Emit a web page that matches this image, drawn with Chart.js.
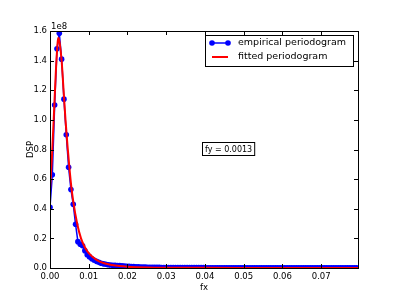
<!DOCTYPE html>
<html>
<head>
<meta charset="utf-8">
<script src="https://cdn.jsdelivr.net/npm/chart.js@4"></script>
<style>
  html, body { margin: 0; padding: 0; background: #fff; }
  #wrap { width: 399px; height: 299px; }
</style>
</head>
<body>
<div id="wrap"><canvas id="chart" width="399" height="299"></canvas></div>
<script>
// spectral density, values in units of 1e8
const FREQ_STEP = 0.0006;
const empirical = [
    0.41, 0.63, 1.10, 1.48, 1.585, 1.41, 1.14, 0.90, 0.68, 0.53,
    0.43, 0.295, 0.178, 0.16, 0.15, 0.117, 0.09, 0.075, 0.062, 0.052,
    0.045, 0.038, 0.032, 0.028, 0.025, 0.022, 0.020, 0.019, 0.018, 0.017,
    0.016, 0.015, 0.014, 0.012, 0.011, 0.010, 0.009, 0.008, 0.0075, 0.007,
    0.0065, 0.006, 0.0055, 0.005, 0.0048, 0.0045, 0.0042, 0.004, 0.0038, 0.0036,
    0.0034, 0.0033, 0.0032, 0.0031, 0.003, 0.0029, 0.0029, 0.0028, 0.0027, 0.0026,
    0.0026, 0.0025, 0.0024, 0.0024, 0.0023, 0.0023, 0.0022, 0.0021, 0.0021, 0.002,
    0.002, 0.0019, 0.0019, 0.0018, 0.0018, 0.0018, 0.0017, 0.0017, 0.0016, 0.0016,
    0.0016, 0.0015, 0.0015, 0.0015, 0.0014, 0.0014, 0.0014, 0.0013, 0.0013, 0.0013,
    0.0013, 0.0012, 0.0012, 0.0012, 0.0012, 0.0011, 0.0011, 0.0011, 0.0011, 0.0011,
    0.001, 0.001, 0.001, 0.001, 0.001, 0.001, 0.0009, 0.0009, 0.0009, 0.0009,
    0.0009, 0.0009, 0.0009, 0.0008, 0.0008, 0.0008, 0.0008, 0.0008, 0.0008, 0.0008,
    0.0008, 0.0008, 0.0007, 0.0007, 0.0007, 0.0007, 0.0007, 0.0007, 0.0007, 0.0007,
    0.0007, 0.0007, 0.0007
];
const fitX = [0, 0.0005, 0.001, 0.0015, 0.002, 0.0022, 0.0025, 0.003, 0.0035, 0.004,
    0.0045, 0.005, 0.0055, 0.006, 0.007, 0.008, 0.009, 0.010, 0.012, 0.014,
    0.016, 0.018, 0.020, 0.025, 0.030, 0.040, 0.050, 0.060, 0.070, 0.0795];
const fitY = [0.52, 0.75, 1.03, 1.32, 1.53, 1.555, 1.52, 1.40, 1.20, 1.00,
    0.83, 0.68, 0.55, 0.45, 0.30, 0.20, 0.14, 0.10, 0.055, 0.032,
    0.020, 0.013, 0.009, 0.004, 0.002, 0.001, 0.0006, 0.0004, 0.0003, 0.0002];
const xTicks = [0, 0.01, 0.02, 0.03, 0.04, 0.05, 0.06, 0.07];
const yTicks = [0, 0.2, 0.4, 0.6, 0.8, 1.0, 1.2, 1.4, 1.6];
const xMax = 0.0795;
const yMax = 1.6;
const seriesNames = ['empirical periodogram', 'fitted periodogram'];
const fyText = 'fy = 0.0013';

const FONT = 'DejaVu Sans, sans-serif';

const empiricalPts = empirical.map((v, i) => ({ x: i * FREQ_STEP, y: v }));
const fitPts = fitX.map((x, i) => ({ x, y: fitY[i] }));

const decorations = {
    id: 'decorations',
    afterDraw(chart) {
        const ctx = chart.ctx;
        const a = chart.chartArea;
        const xs = chart.scales.x, ys = chart.scales.y;
        ctx.save();
        ctx.strokeStyle = '#000';
        ctx.lineWidth = 1;
        ctx.beginPath();
        xTicks.forEach(t => {
            const px = Math.round(xs.getPixelForValue(t)) + 0.5;
            ctx.moveTo(px, a.bottom); ctx.lineTo(px, a.bottom - 4);
            ctx.moveTo(px, a.top); ctx.lineTo(px, a.top + 4);
        });
        yTicks.forEach(t => {
            const py = Math.round(ys.getPixelForValue(t)) + 0.5;
            ctx.moveTo(a.left, py); ctx.lineTo(a.left + 4, py);
            ctx.moveTo(a.right, py); ctx.lineTo(a.right - 4, py);
        });
        ctx.stroke();
        ctx.strokeRect(Math.round(a.left) + 0.5, Math.round(a.top) + 0.5,
            Math.round(a.right - a.left), Math.round(a.bottom - a.top));

        ctx.fillStyle = '#000';
        ctx.font = '8.5px ' + FONT;
        ctx.textAlign = 'left';
        ctx.textBaseline = 'alphabetic';
        ctx.fillText('1e8', a.left + 1, a.top - 2);

        ctx.textAlign = 'center';
        ctx.fillText('fx', (a.left + a.right) / 2, 290);
        ctx.save();
        ctx.translate(33, (a.top + a.bottom) / 2);
        ctx.rotate(-Math.PI / 2);
        ctx.fillText('DSP', 0, 0);
        ctx.restore();

        // fy annotation
        ctx.textAlign = 'left';
        ctx.font = '8px ' + FONT;
        ctx.fillText(fyText, 205, 152);
        const w = ctx.measureText(fyText).width;
        ctx.strokeRect(202.5, 142.5, w + 5, 13);

        // legend
        ctx.fillStyle = '#fff';
        ctx.fillRect(205, 35, 148, 31);
        ctx.strokeRect(205.5, 35.5, 148, 31);
        ctx.font = '9.5px ' + FONT;
        ctx.textBaseline = 'middle';
        ctx.fillStyle = '#000';
        ctx.fillText(seriesNames[0], 238, 43);
        ctx.fillText(seriesNames[1], 238, 57);
        ctx.strokeStyle = '#0000ff';
        ctx.lineWidth = 1.5;
        ctx.beginPath(); ctx.moveTo(212, 43); ctx.lineTo(228, 43); ctx.stroke();
        ctx.fillStyle = '#0000ff';
        [212, 228].forEach(x => { ctx.beginPath(); ctx.arc(x, 43, 2.8, 0, Math.PI * 2); ctx.fill(); });
        ctx.strokeStyle = '#ff0000';
        ctx.lineWidth = 2;
        ctx.beginPath(); ctx.moveTo(212, 57); ctx.lineTo(228, 57); ctx.stroke();
        ctx.restore();
    }
};

new Chart(document.getElementById('chart'), {
    type: 'line',
    data: {
        datasets: [{
            label: seriesNames[0],
            data: empiricalPts,
            borderColor: '#0000ff',
            backgroundColor: '#0000ff',
            borderWidth: 1.5,
            pointRadius: 2.8,
            pointBorderWidth: 0,
            tension: 0,
            order: 2
        }, {
            label: seriesNames[1],
            data: fitPts,
            borderColor: '#ff0000',
            borderWidth: 2,
            pointRadius: 0,
            cubicInterpolationMode: 'monotone',
            order: 1
        }]
    },
    options: {
        responsive: false,
        animation: false,
        layout: { padding: { left: 0, top: 31, right: 41, bottom: 0 } },
        plugins: { legend: { display: false }, tooltip: { enabled: false } },
        scales: {
            x: {
                type: 'linear',
                min: 0,
                max: xMax,
                afterFit: s => { s.height = 31; },
                afterBuildTicks: s => { s.ticks = xTicks.map(v => ({ value: v })); },
                grid: { display: false, drawTicks: false, tickLength: 0 },
                border: { display: false },
                ticks: {
                    padding: 4,
                    color: '#000',
                    font: { family: FONT, size: 8.5 },
                    maxRotation: 0,
                    callback: v => v.toFixed(2)
                }
            },
            y: {
                min: 0,
                max: yMax,
                afterFit: s => { s.width = 50; },
                afterBuildTicks: s => { s.ticks = yTicks.map(v => ({ value: v })); },
                grid: { display: false, drawTicks: false, tickLength: 0 },
                border: { display: false },
                ticks: {
                    padding: 3,
                    color: '#000',
                    font: { family: FONT, size: 8.5 },
                    callback: v => v.toFixed(1)
                }
            }
        }
    },
    plugins: [decorations]
});
</script>
</body>
</html>
